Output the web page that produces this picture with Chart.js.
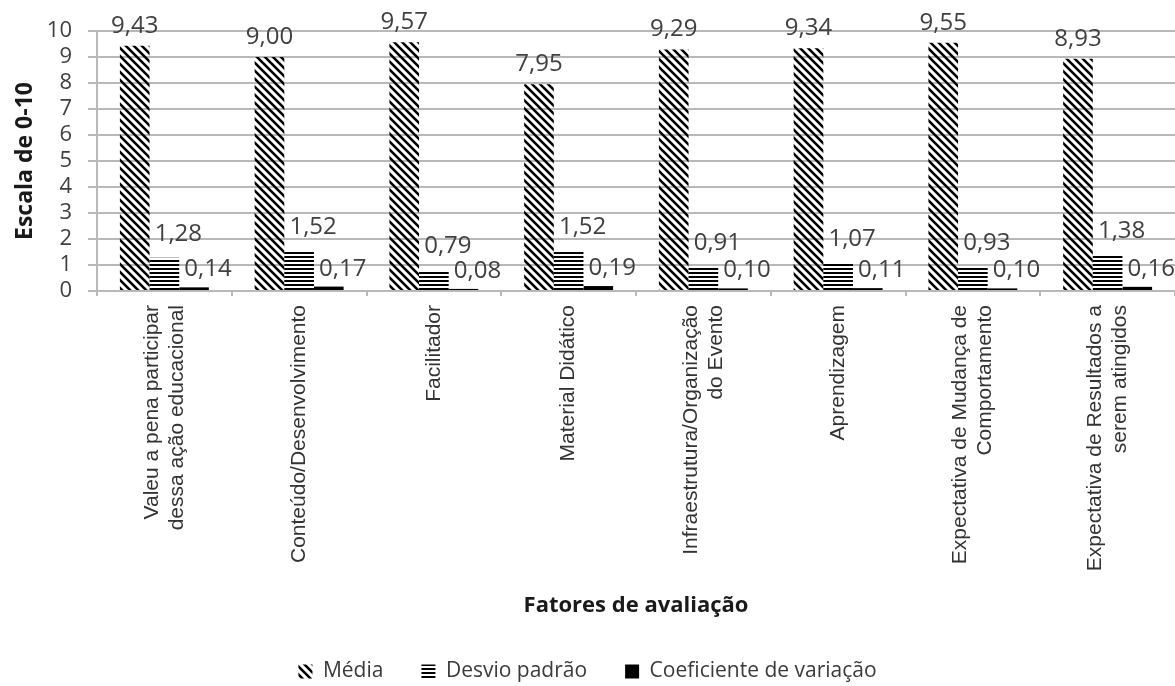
<!DOCTYPE html>
<html>
<head>
<meta charset="utf-8">
<script src="https://cdn.jsdelivr.net/npm/chart.js@4.4.1/dist/chart.umd.min.js"></script>
<style>
  html, body { margin: 0; padding: 0; background: #fff; }
  canvas { display: block; }
</style>
</head>
<body>
<canvas id="chart" width="1175" height="686"></canvas>
<script>
// Evaluation factors (x axis), each label may wrap on two lines
const categories = [
  ['Valeu a pena participar', 'dessa ação educacional'],
  'Conteúdo/Desenvolvimento',
  'Facilitador',
  'Material Didático',
  ['Infraestrutura/Organização', 'do Evento'],
  'Aprendizagem',
  ['Expectativa de Mudança de', 'Comportamento'],
  ['Expectativa de Resultados a', 'serem atingidos']
];

// Series values
const media = [9.43, 9.00, 9.57, 7.95, 9.29, 9.34, 9.55, 8.93];
const desvioPadrao = [1.28, 1.52, 0.79, 1.52, 0.91, 1.07, 0.93, 1.38];
const coefVariacao = [0.14, 0.17, 0.08, 0.19, 0.10, 0.11, 0.10, 0.16];

const seriesNames = ['Média', 'Desvio padrão', 'Coeficiente de variação'];

// Value axis range
const yMin = 0;
const yMax = 10;
const yStep = 1;

const xTitle = 'Fatores de avaliação';
const yTitle = 'Escala de 0-10';

const canvas = document.getElementById('chart');
const ctx = canvas.getContext('2d');

// Fill patterns for the black-and-white bars
function diagonalPattern() {
  const c = document.createElement('canvas');
  c.width = 8; c.height = 8;
  const g = c.getContext('2d');
  g.strokeStyle = '#000';
  g.lineWidth = 2.6;
  g.beginPath();
  g.moveTo(-2, -2); g.lineTo(10, 10);
  g.moveTo(-2, 6); g.lineTo(2, 10);
  g.moveTo(6, -2); g.lineTo(10, 2);
  g.stroke();
  return ctx.createPattern(c, 'repeat');
}
function horizontalPattern() {
  const c = document.createElement('canvas');
  c.width = 4; c.height = 4;
  const g = c.getContext('2d');
  g.fillStyle = '#fff';
  g.fillRect(0, 0, 4, 4);
  g.fillStyle = '#000';
  g.fillRect(0, 0, 4, 2);
  return ctx.createPattern(c, 'repeat');
}

const fmt = v => v.toFixed(2).replace('.', ',');

// Value labels printed above each bar
const valueLabels = {
  id: 'valueLabels',
  afterDatasetsDraw(chart) {
    const offsets = [[0, 13], [14, 17], [14, 11]];
    const c = chart.ctx;
    c.save();
    c.font = '24px "Open Sans"';
    c.fillStyle = '#404040';
    c.textAlign = 'center';
    c.textBaseline = 'alphabetic';
    chart.data.datasets.forEach((ds, i) => {
      const meta = chart.getDatasetMeta(i);
      const [dx, dy] = offsets[i];
      meta.data.forEach((bar, j) => {
        c.fillText(fmt(ds.data[j]), bar.x + dx, bar.y - dy);
      });
    });
    c.restore();
  }
};

// Vertical category labels, multi-line labels centred on their tick
const categoryLabels = {
  id: 'categoryLabels',
  afterDraw(chart) {
    const scale = chart.scales.x;
    const c = chart.ctx;
    const lineGap = 25;
    const top = scale.top + 14;
    c.save();
    c.font = '21px "Liberation Sans"';
    c.fillStyle = '#333';
    c.textAlign = 'right';
    c.textBaseline = 'middle';
    chart.data.labels.forEach((label, i) => {
      const lines = Array.isArray(label) ? label : [label];
      const px = scale.getPixelForTick(i);
      lines.forEach((line, k) => {
        const cx = px + (k - (lines.length - 1) / 2) * lineGap;
        c.save();
        c.translate(cx, top);
        c.rotate(-Math.PI / 2);
        c.fillText(line, 0, 0);
        c.restore();
      });
    });
    c.restore();
  }
};

const gridColor = '#b8b8b8';
const plotBottom = 291;
const legendShift = 6;

new Chart(ctx, {
  type: 'bar',
  data: {
    labels: categories,
    datasets: [
      { label: seriesNames[0], data: media, backgroundColor: diagonalPattern(), borderWidth: 0 },
      { label: seriesNames[1], data: desvioPadrao, backgroundColor: horizontalPattern(), borderWidth: 0 },
      { label: seriesNames[2], data: coefVariacao, backgroundColor: '#000', borderWidth: 0 }
    ]
  },
  options: {
    responsive: false,
    animation: false,
    devicePixelRatio: 1,
    layout: { padding: { left: 0, right: 0, top: 31, bottom: -legendShift } },
    datasets: { bar: { categoryPercentage: 0.66, barPercentage: 1.0 } },
    plugins: {
      legend: {
        position: 'bottom',
        labels: {
          font: { family: 'Open Sans', size: 21 },
          color: '#3a3a3a',
          boxWidth: 14,
          boxHeight: 14,
          padding: 38
        }
      },
      tooltip: { enabled: false }
    },
    scales: {
      x: {
        grid: { display: true, drawOnChartArea: false, tickLength: 5, color: gridColor, lineWidth: 2, offset: true },
        border: { color: gridColor, width: 2 },
        ticks: { display: false },
        title: {
          display: true,
          text: xTitle,
          color: '#1a1a1a',
          font: { family: 'Open Sans', size: 22, weight: 'bold' },
          padding: { top: 0, bottom: 4 }
        },
        afterFit(scale) {
          const chart = scale.chart;
          scale.height = chart.height + legendShift - plotBottom - chart.legend.height;
        }
      },
      y: {
        min: yMin,
        max: yMax,
        ticks: {
          stepSize: yStep,
          autoSkip: false,
          padding: 16,
          color: '#404040',
          font: { family: 'Open Sans', size: 22 }
        },
        grid: { color: gridColor, lineWidth: 2, tickLength: 9 },
        border: { color: gridColor, width: 2 },
        title: {
          display: true,
          text: yTitle,
          color: '#1a1a1a',
          font: { family: 'Open Sans', size: 23, weight: 'bold' },
          padding: { top: 12, bottom: 0 }
        },
        afterFit(scale) { scale.width = 97; }
      }
    }
  },
  plugins: [valueLabels, categoryLabels]
});
</script>
</body>
</html>
